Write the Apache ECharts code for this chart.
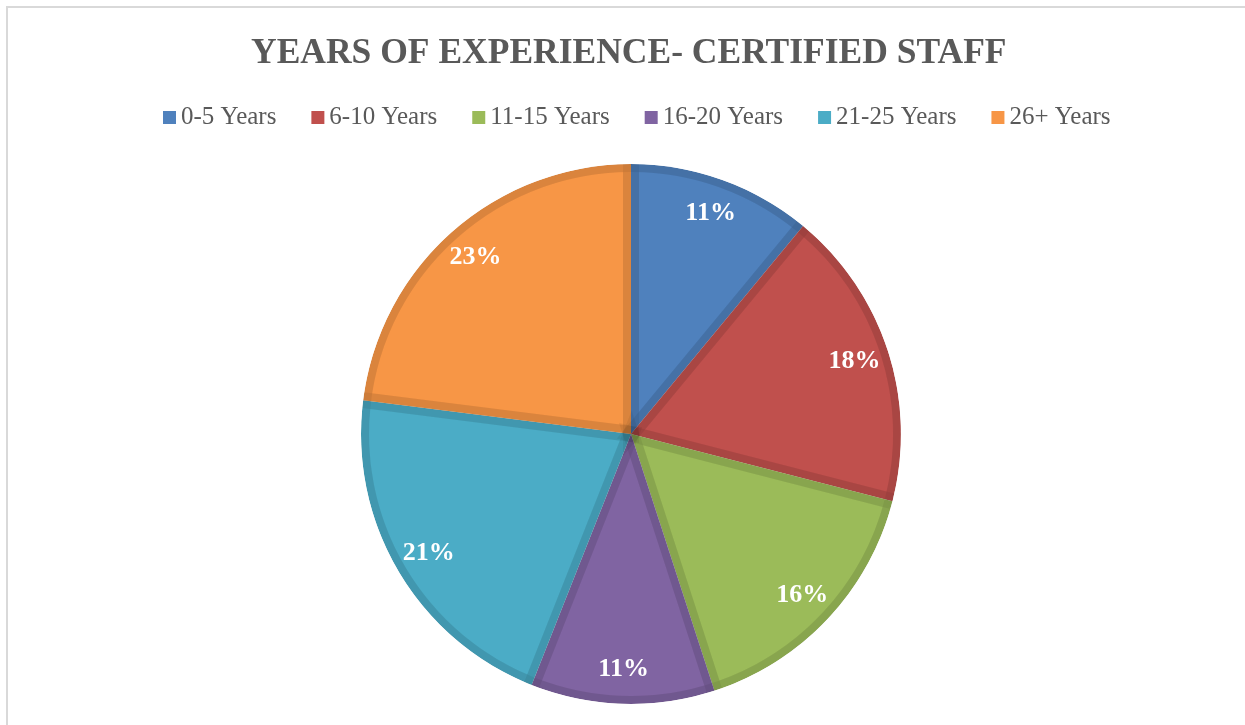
<!DOCTYPE html>
<html>
<head>
<meta charset="utf-8">
<script src="https://cdn.jsdelivr.net/npm/echarts@6/dist/echarts.min.js"></script>
<style>
  html, body { margin: 0; padding: 0; background: #fff; }
  #main { width: 1245px; height: 725px; }
</style>
</head>
<body>
<div id="main"></div>
<script>
// data
var categories = ["0-5 Years", "6-10 Years", "11-15 Years", "16-20 Years", "21-25 Years", "26+ Years"];
var shares = [11, 18, 16, 11, 21, 23];
var fillColors = ["#4F81BD", "#C0504D", "#9BBB59", "#8064A2", "#4BACC6", "#F79646"];

function makeData(colors) {
  return categories.map(function (name, i) {
    return { name: name, value: shares[i], itemStyle: { color: colors ? colors[i] : "transparent" } };
  });
}

var shade = "rgba(0,0,0,0.06)"; // darker rim inside every slice
var pieCenter = [631, 434];

var myChart = echarts.init(document.getElementById("main"));

var option = {
  backgroundColor: "#fff",
  animation: false,
  title: {
    text: "YEARS OF EXPERIENCE- CERTIFIED STAFF",
    left: 246,
    top: 31,
    textStyle: {
      fontFamily: "Liberation Serif",
      fontWeight: "bold",
      fontSize: 35.5,
      color: "#595959"
    }
  },
  legend: {
    top: 100,
    left: 158,
    icon: "rect",
    itemWidth: 13,
    itemHeight: 13,
    itemGap: 35,
    textStyle: {
      fontFamily: "Liberation Serif",
      fontSize: 25,
      color: "#595959"
    },
    data: categories
  },
  graphic: [
    {
      type: "rect",
      shape: { x: 7, y: 7, width: 1300, height: 800 },
      style: { fill: "none", stroke: "#D9D9D9", lineWidth: 2 },
      silent: true
    }
  ],
  series: [
    {
      // slices
      name: "fill",
      type: "pie",
      z: 2,
      center: pieCenter,
      radius: [0, 270],
      startAngle: 90,
      label: { show: false },
      labelLine: { show: false },
      silent: true,
      data: makeData(fillColors)
    },
    {
      // shaded band along the straight edges (each edge gets it from both sides)
      name: "edges",
      type: "pie",
      z: 3,
      center: pieCenter,
      radius: [0, 270],
      startAngle: 90,
      label: { show: false },
      labelLine: { show: false },
      silent: true,
      legendHoverLink: false,
      itemStyle: { borderWidth: 16, borderColor: shade, borderJoin: "miter" },
      data: makeData(null)
    },
    {
      // second pass of shade on the rounded rim
      name: "rim",
      type: "pie",
      z: 3,
      center: pieCenter,
      radius: [262, 270],
      label: { show: false },
      labelLine: { show: false },
      silent: true,
      legendHoverLink: false,
      data: [{ name: "rim", value: 1, itemStyle: { color: shade } }]
    },
    {
      // hides the shade that falls outside the pie
      name: "mask",
      type: "pie",
      z: 4,
      center: pieCenter,
      radius: [270, 284],
      label: { show: false },
      labelLine: { show: false },
      silent: true,
      legendHoverLink: false,
      data: [{ name: "mask", value: 1, itemStyle: { color: "#fff" } }]
    },
    {
      // percent labels near the rim
      name: "labels",
      type: "pie",
      z: 5,
      center: pieCenter,
      radius: [202, 262],
      startAngle: 90,
      percentPrecision: 0,
      silent: true,
      label: {
        show: true,
        position: "inside",
        formatter: "{d}%",
        fontFamily: "Liberation Serif",
        fontWeight: "bold",
        fontSize: 26,
        color: "#fff"
      },
      labelLine: { show: false },
      data: makeData(null)
    }
  ]
};

myChart.setOption(option);
</script>
</body>
</html>
